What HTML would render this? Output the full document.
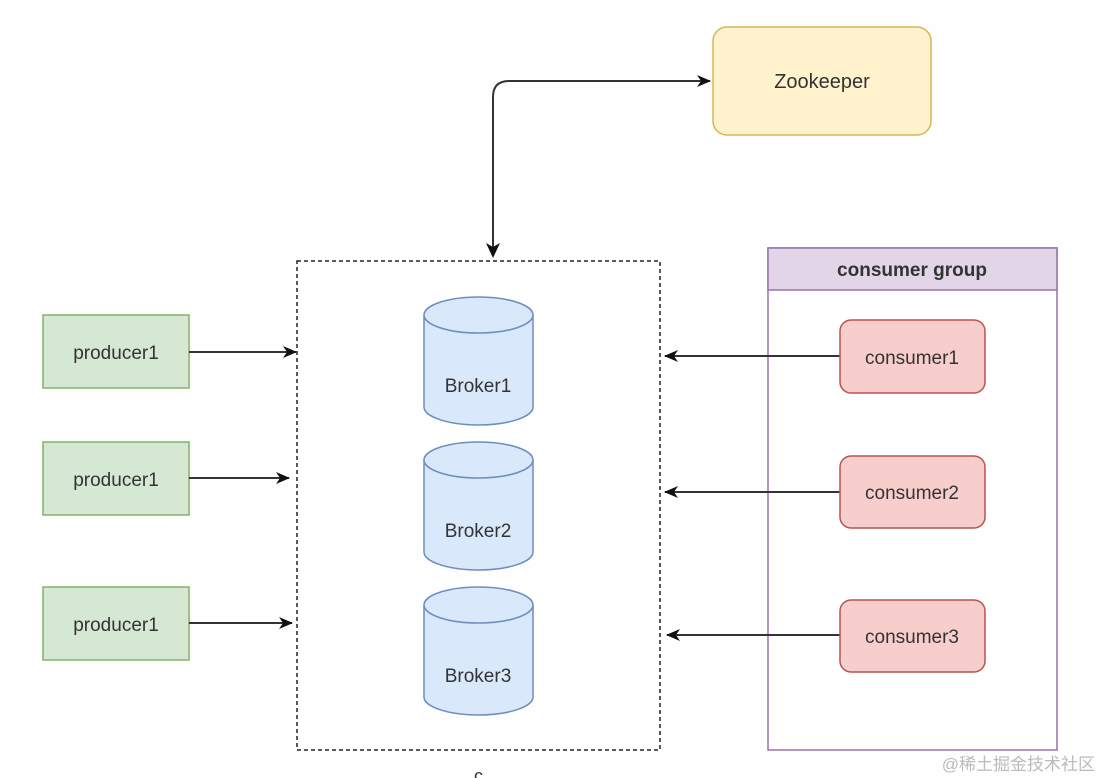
<!DOCTYPE html>
<html><head><style>body{margin:0;background:#fff}svg{display:block}</style></head><body>
<svg width="1100" height="778" viewBox="0 0 1100 778" xmlns="http://www.w3.org/2000/svg" font-family="Liberation Sans, sans-serif">
<defs><marker id="a" markerWidth="14" markerHeight="14" refX="13" refY="7" orient="auto" markerUnits="userSpaceOnUse"><path d="M0,1 L14,7 L0,13 L4,7z" fill="#111"/></marker></defs>
<rect width="1100" height="778" fill="#fefefe"/>
<rect x="713" y="27" width="218" height="108" rx="14" fill="#fff2cc" stroke="#d6b656" stroke-width="1.5"/>
<text x="822" y="88" font-size="20" text-anchor="middle" fill="#333">Zookeeper</text>
<path d="M493,256 V97 Q493,81 509,81 H710" fill="none" stroke="#333" stroke-width="2" marker-end="url(#a)"/>
<path d="M493,258 l-7,-15 l7,4 l7,-4z" fill="#111"/>
<rect x="297" y="261" width="363" height="489" fill="none" stroke="#222" stroke-width="1.5" stroke-dasharray="4,3"/>
<g fill="#dae8fc" stroke="#6c8ebf" stroke-width="1.5">
<path d="M424,315 v92 a54.5,18 0 0 0 109,0 v-92"/><ellipse cx="478.5" cy="315" rx="54.5" ry="18"/>
<path d="M424,460 v92 a54.5,18 0 0 0 109,0 v-92"/><ellipse cx="478.5" cy="460" rx="54.5" ry="18"/>
<path d="M424,605 v92 a54.5,18 0 0 0 109,0 v-92"/><ellipse cx="478.5" cy="605" rx="54.5" ry="18"/>
</g>
<g font-size="19" text-anchor="middle" fill="#333">
<text x="478" y="392">Broker1</text><text x="478" y="537">Broker2</text><text x="478" y="682">Broker3</text>
</g>
<g fill="#d5e8d4" stroke="#82b366" stroke-width="1.5">
<rect x="43" y="315" width="146" height="73"/><rect x="43" y="442" width="146" height="73"/><rect x="43" y="587" width="146" height="73"/>
</g>
<g font-size="19" text-anchor="middle" fill="#333">
<text x="116" y="359">producer1</text><text x="116" y="486">producer1</text><text x="116" y="631">producer1</text>
</g>
<rect x="768" y="248" width="289" height="502" fill="#fff" stroke="#9673a6" stroke-width="1.5"/>
<rect x="768" y="248" width="289" height="42" fill="#e1d5e7" stroke="#9673a6" stroke-width="1.5"/>
<text x="912" y="276" font-size="19" font-weight="bold" text-anchor="middle" fill="#333">consumer group</text>
<g stroke="#333" stroke-width="2" fill="none" marker-end="url(#a)">
<path d="M189,352 H296"/><path d="M189,478 H289"/><path d="M189,623 H292"/>
<path d="M840,356 H665"/><path d="M840,492 H665"/><path d="M840,635 H667"/>
</g>
<g fill="#f8cecc" stroke="#b85450" stroke-width="1.5">
<rect x="840" y="320" width="145" height="73" rx="11"/><rect x="840" y="456" width="145" height="72" rx="11"/><rect x="840" y="600" width="145" height="72" rx="11"/>
</g>
<g font-size="19" text-anchor="middle" fill="#333">
<text x="912" y="364">consumer1</text><text x="912" y="499">consumer2</text><text x="912" y="643">consumer3</text>
</g>
<text x="474" y="782" font-size="18" fill="#333">c</text>
<text x="1095" y="770" font-size="17" text-anchor="end" fill="#bbb" font-family="Liberation Sans, Noto Sans CJK SC, sans-serif">@稀土掘金技术社区</text>
</svg>
</body></html>
